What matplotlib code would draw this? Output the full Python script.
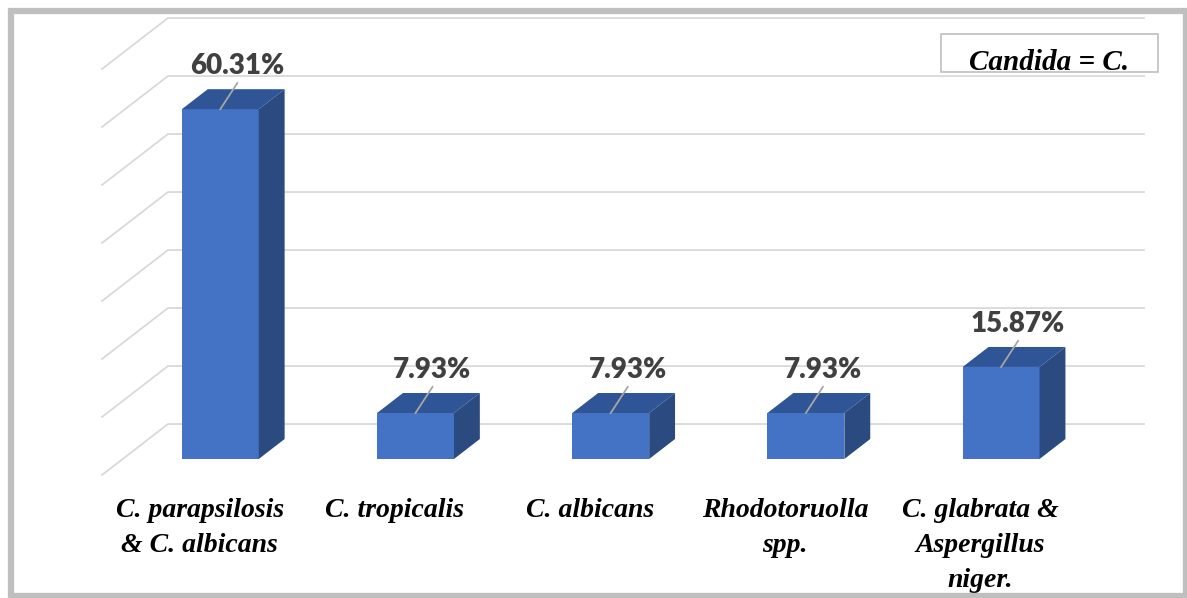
import matplotlib
matplotlib.use("Agg")
from matplotlib import pyplot as plt
from matplotlib.patches import Polygon, Rectangle
import numpy as np

categories = ["C. parapsilosis\n& C. albicans", "C. tropicalis", "C. albicans",
              "Rhodotoruolla\nspp.", "C. glabrata &\nAspergillus\nniger."]
values = [60.31, 7.93, 7.93, 7.93, 15.87]
labels = ["60.31%", "7.93%", "7.93%", "7.93%", "15.87%"]
ticks = np.arange(0, 80, 10)

# fake 3d: oblique offset of the back wall (category units, value units)
DX = 0.338
DY = 8.79
t0, t1 = 0.314, 0.706   # bar front / back depth
bw = 0.394              # bar width

front = "#4472c4"
top = "#2f5597"
side = "#2b4a80"
grid = "#d9d9d9"

W, H = 1187, 598
fig = plt.figure(figsize=(W / 100, H / 100), dpi=100)
ax = fig.add_axes([0, 0, 1, 1])
ax.set_xlim(-102 / 195.2, (W - 102) / 195.2)
ax.set_ylim((475 - H) / 5.8, 475 / 5.8)
ax.axis('off')


def p(x, v, t):
    return (x + t * DX, v + t * DY)


n = len(values)
for v in ticks:
    a = p(0, v, 0)
    b = p(0, v, 1)
    c = p(n, v, 1)
    ax.plot([a[0], b[0], c[0]], [a[1], b[1], c[1]], color=grid, lw=1.3, zorder=1)

for i, v in enumerate(values):
    x0 = i + 0.5 - bw / 2
    x1 = i + 0.5 + bw / 2
    # front
    ax.add_patch(Polygon([p(x0, 0, t0), p(x1, 0, t0), p(x1, v, t0), p(x0, v, t0)],
                         closed=True, facecolor=front, edgecolor='none', zorder=3))
    # top
    ax.add_patch(Polygon([p(x0, v, t0), p(x1, v, t0), p(x1, v, t1), p(x0, v, t1)],
                         closed=True, facecolor=top, edgecolor='none', zorder=3))
    # side
    ax.add_patch(Polygon([p(x1, 0, t0), p(x1, 0, t1), p(x1, v, t1), p(x1, v, t0)],
                         closed=True, facecolor=side, edgecolor='none', zorder=3))
    # leader + label
    s = p(i + 0.5, v, t0)
    ax.plot([s[0], s[0] + 0.087], [s[1], s[1] + 4.5], color="#a6a6a6", lw=1.3, zorder=4)
    ax.text(s[0] + 0.087, s[1] + 6.1, labels[i], ha='center', va='baseline',
            fontsize=20, fontweight='heavy', family='Lato', color="#404040", zorder=5)
    ax.text(i + 0.5, -3.9, categories[i], ha='center', va='top', multialignment='center',
            fontsize=20, fontweight='bold', fontstyle='italic',
            family='Liberation Serif', color='black', linespacing=1.53)

# note box
fig.add_artist(Rectangle((941 / W, 1 - 72 / H), 217 / W, 38 / H, transform=fig.transFigure,
                         facecolor='white', edgecolor="#bfbfbf", lw=1.2))
fig.text(1049 / W, 1 - 70 / H, "Candida = C.", ha='center', va='baseline',
         fontsize=21, fontweight='bold', fontstyle='italic', family='Liberation Serif')

# outer frame
fig.add_artist(Rectangle((10.5 / W, 2.5 / H), (1186 - 10.5) / W, (587.5 - 2.5) / H,
                         transform=fig.transFigure, fill=False, edgecolor="#bfbfbf", lw=4.5))

fig.savefig("out.png", dpi=100)
